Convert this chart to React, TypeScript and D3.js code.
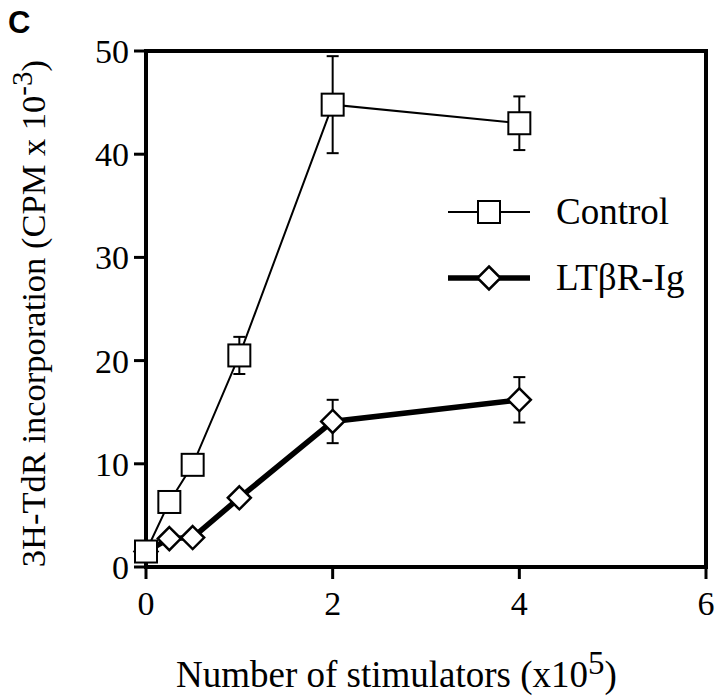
import React from "react";
import * as d3 from "d3";

// x values (stimulators x10^5)
const stimulators = [0, 0.25, 0.5, 1, 2, 4];
const controlValues = [1.5, 6.3, 9.9, 20.5, 44.8, 43.0];
const controlErrors = [0, 0, 0, 1.8, 4.7, 2.6];
const ltbrValues = [1.5, 2.75, 2.85, 6.7, 14.1, 16.2];
const ltbrErrors = [0, 0, 0, 0, 2.1, 2.2];

const xTicks = [0, 2, 4, 6];
const yTicks = [0, 10, 20, 30, 40, 50];

const serif = "'Liberation Serif', 'Times New Roman', serif";

const margin = { top: 51, right: 14, bottom: 131, left: 146 };
const W = 720, H = 698;

export default function App() {
  const x = d3.scaleLinear().domain([0, 6]).range([margin.left, W - margin.right]);
  const y = d3.scaleLinear().domain([0, 50]).range([H - margin.bottom, margin.top]);

  const line = d3.line<number>()
    .x((d, i) => x(stimulators[i]))
    .y((d) => y(d));

  const sq = 22, dia = 11.5;

  const errorBars = (vals: number[], errs: number[], key: string) =>
    vals.map((v, i) => {
      if (!errs[i]) return null;
      const cx = x(stimulators[i]);
      const y1 = y(v + errs[i]), y2 = y(v - errs[i]);
      return (
        <g key={key + i} stroke="#000" strokeWidth={2}>
          <line x1={cx} x2={cx} y1={y1} y2={y2} />
          <line x1={cx - 6} x2={cx + 6} y1={y1} y2={y1} />
          <line x1={cx - 6} x2={cx + 6} y1={y2} y2={y2} />
        </g>
      );
    });

  const square = (cx: number, cy: number, k: string) => (
    <rect key={k} x={cx - sq / 2} y={cy - sq / 2} width={sq} height={sq}
      fill="#fff" stroke="#000" strokeWidth={2} />
  );
  const diamond = (cx: number, cy: number, k: string) => (
    <path key={k} d={`M${cx},${cy - dia}L${cx + dia},${cy}L${cx},${cy + dia}L${cx - dia},${cy}Z`}
      fill="#fff" stroke="#000" strokeWidth={2.5} />
  );

  const [x0, x1] = x.range();
  const [y0, y1] = y.range();

  const legendX = 448, legendX2 = 530, legendMid = 489;

  return (
    <svg width={W} height={H} style={{ position: "absolute", left: 0, top: 0, background: "#fff" }}>
      <text x={8} y={33} fontFamily="'Liberation Sans', Arial, sans-serif" fontWeight="bold" fontSize={31}>C</text>

      {/* frame */}
      <rect x={x0} y={y1} width={x1 - x0} height={y0 - y1} fill="none" stroke="#000" strokeWidth={4} />

      {/* y axis */}
      {yTicks.map((t) => (
        <g key={"y" + t}>
          <line x1={x0 - 12} x2={x0} y1={y(t)} y2={y(t)} stroke="#000" strokeWidth={3} />
          <text x={x0 - 17} y={y(t)} dy="0.35em" textAnchor="end" fontFamily={serif} fontSize={34}>{t}</text>
        </g>
      ))}

      {/* x axis */}
      {xTicks.map((t) => (
        <g key={"x" + t}>
          <line x1={x(t)} x2={x(t)} y1={y0} y2={y0 + 12} stroke="#000" strokeWidth={3} />
          <text x={x(t)} y={615} textAnchor="middle" fontFamily={serif} fontSize={34}>{t}</text>
        </g>
      ))}

      <text x={176} y={687} fontFamily={serif} fontSize={37}>
        Number of stimulators (x10<tspan dy={-13} fontSize={33}>5</tspan><tspan dy={13}>)</tspan>
      </text>

      <text transform="translate(45,60) rotate(-90)" textAnchor="end" fontFamily={serif} fontSize={34.5}>
        3H-TdR incorporation (CPM x 10<tspan dy={-13} fontSize={29}>-3</tspan><tspan dy={13}>)</tspan>
      </text>

      {/* LTbR-Ig series */}
      <path d={line(ltbrValues) || ""} fill="none" stroke="#000" strokeWidth={5.5} />
      {errorBars(ltbrValues, ltbrErrors, "le")}
      {ltbrValues.map((v, i) => diamond(x(stimulators[i]), y(v), "ld" + i))}

      {/* Control series */}
      <path d={line(controlValues) || ""} fill="none" stroke="#000" strokeWidth={2} />
      {errorBars(controlValues, controlErrors, "ce")}
      {controlValues.map((v, i) => square(x(stimulators[i]), y(v), "cs" + i))}

      {/* legend */}
      <line x1={legendX} x2={legendX2} y1={212} y2={212} stroke="#000" strokeWidth={2} />
      {square(legendMid, 212, "lg1")}
      <text x={556} y={224} fontFamily={serif} fontSize={37}>Control</text>
      <line x1={legendX} x2={legendX2} y1={278} y2={278} stroke="#000" strokeWidth={5.5} />
      {diamond(legendMid, 278, "lg2")}
      <text x={556} y={290} fontFamily={serif} fontSize={37}>LTβR-Ig</text>
    </svg>
  );
}
